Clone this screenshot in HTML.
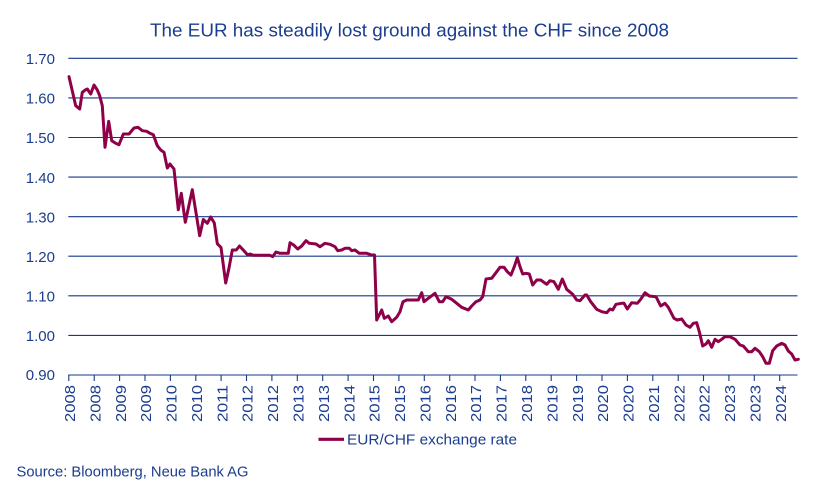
<!DOCTYPE html>
<html>
<head>
<meta charset="utf-8">
<style>
  html, body { margin: 0; padding: 0; background: #ffffff; }
  svg { display: block; }
  text { font-family: "Liberation Sans", "DejaVu Sans", sans-serif; fill: #1b3d8f; }
</style>
</head>
<body>
<svg width="814" height="496" viewBox="0 0 814 496" xmlns="http://www.w3.org/2000/svg">
  <rect x="0" y="0" width="814" height="496" fill="#ffffff"/>

  <!-- Title -->
  <text x="150" y="36.7" font-size="18" textLength="519" lengthAdjust="spacingAndGlyphs">The EUR has steadily lost ground against the CHF since 2008</text>

  <!-- Gridlines -->
  <g stroke="#17388a" stroke-width="1.1" fill="none">
    <line x1="68.3" y1="58.3" x2="797.5" y2="58.3"/>
    <line x1="68.3" y1="97.9" x2="797.5" y2="97.9"/>
    <line x1="68.3" y1="137.5" x2="797.5" y2="137.5"/>
    <line x1="68.3" y1="177.1" x2="797.5" y2="177.1"/>
    <line x1="68.3" y1="216.7" x2="797.5" y2="216.7"/>
    <line x1="68.3" y1="256.2" x2="797.5" y2="256.2"/>
    <line x1="68.3" y1="295.8" x2="797.5" y2="295.8"/>
    <line x1="68.3" y1="335.4" x2="797.5" y2="335.4"/>
    <line x1="68.3" y1="375" x2="797.5" y2="375"/>
  </g>

  <!-- Y labels -->
  <g font-size="15" text-anchor="end">
    <text x="55" y="64">1.70</text>
    <text x="55" y="103.6">1.60</text>
    <text x="55" y="143.2">1.50</text>
    <text x="55" y="182.8">1.40</text>
    <text x="55" y="222.4">1.30</text>
    <text x="55" y="261.9">1.20</text>
    <text x="55" y="301.5">1.10</text>
    <text x="55" y="341.1">1.00</text>
    <text x="55" y="380">0.90</text>
  </g>

  <!-- X ticks -->
  <g stroke="#17388a" stroke-width="1.1">
    <line x1="68.8" y1="375" x2="68.8" y2="381"/>
    <line x1="94.2" y1="375" x2="94.2" y2="381"/>
    <line x1="119.6" y1="375" x2="119.6" y2="381"/>
    <line x1="145.0" y1="375" x2="145.0" y2="381"/>
    <line x1="170.4" y1="375" x2="170.4" y2="381"/>
    <line x1="195.8" y1="375" x2="195.8" y2="381"/>
    <line x1="221.1" y1="375" x2="221.1" y2="381"/>
    <line x1="246.5" y1="375" x2="246.5" y2="381"/>
    <line x1="271.9" y1="375" x2="271.9" y2="381"/>
    <line x1="297.3" y1="375" x2="297.3" y2="381"/>
    <line x1="322.7" y1="375" x2="322.7" y2="381"/>
    <line x1="348.1" y1="375" x2="348.1" y2="381"/>
    <line x1="373.5" y1="375" x2="373.5" y2="381"/>
    <line x1="398.9" y1="375" x2="398.9" y2="381"/>
    <line x1="424.3" y1="375" x2="424.3" y2="381"/>
    <line x1="449.7" y1="375" x2="449.7" y2="381"/>
    <line x1="475.0" y1="375" x2="475.0" y2="381"/>
    <line x1="500.4" y1="375" x2="500.4" y2="381"/>
    <line x1="525.8" y1="375" x2="525.8" y2="381"/>
    <line x1="551.2" y1="375" x2="551.2" y2="381"/>
    <line x1="576.6" y1="375" x2="576.6" y2="381"/>
    <line x1="602.0" y1="375" x2="602.0" y2="381"/>
    <line x1="627.4" y1="375" x2="627.4" y2="381"/>
    <line x1="652.8" y1="375" x2="652.8" y2="381"/>
    <line x1="678.2" y1="375" x2="678.2" y2="381"/>
    <line x1="703.5" y1="375" x2="703.5" y2="381"/>
    <line x1="728.9" y1="375" x2="728.9" y2="381"/>
    <line x1="754.3" y1="375" x2="754.3" y2="381"/>
    <line x1="779.7" y1="375" x2="779.7" y2="381"/>
  </g>

  <!-- X labels (rotated) -->
  <g font-size="15" text-anchor="end">
    <text transform="translate(75,385) rotate(-90)" textLength="37" lengthAdjust="spacingAndGlyphs">2008</text>
    <text transform="translate(100.4,385) rotate(-90)" textLength="37" lengthAdjust="spacingAndGlyphs">2008</text>
    <text transform="translate(125.8,385) rotate(-90)" textLength="37" lengthAdjust="spacingAndGlyphs">2009</text>
    <text transform="translate(151.2,385) rotate(-90)" textLength="37" lengthAdjust="spacingAndGlyphs">2009</text>
    <text transform="translate(176.6,385) rotate(-90)" textLength="37" lengthAdjust="spacingAndGlyphs">2010</text>
    <text transform="translate(202.0,385) rotate(-90)" textLength="37" lengthAdjust="spacingAndGlyphs">2010</text>
    <text transform="translate(227.3,385) rotate(-90)" textLength="37" lengthAdjust="spacingAndGlyphs">2011</text>
    <text transform="translate(252.7,385) rotate(-90)" textLength="37" lengthAdjust="spacingAndGlyphs">2012</text>
    <text transform="translate(278.1,385) rotate(-90)" textLength="37" lengthAdjust="spacingAndGlyphs">2012</text>
    <text transform="translate(303.5,385) rotate(-90)" textLength="37" lengthAdjust="spacingAndGlyphs">2013</text>
    <text transform="translate(328.9,385) rotate(-90)" textLength="37" lengthAdjust="spacingAndGlyphs">2013</text>
    <text transform="translate(354.3,385) rotate(-90)" textLength="37" lengthAdjust="spacingAndGlyphs">2014</text>
    <text transform="translate(379.7,385) rotate(-90)" textLength="37" lengthAdjust="spacingAndGlyphs">2015</text>
    <text transform="translate(405.1,385) rotate(-90)" textLength="37" lengthAdjust="spacingAndGlyphs">2015</text>
    <text transform="translate(430.5,385) rotate(-90)" textLength="37" lengthAdjust="spacingAndGlyphs">2016</text>
    <text transform="translate(455.9,385) rotate(-90)" textLength="37" lengthAdjust="spacingAndGlyphs">2016</text>
    <text transform="translate(481.2,385) rotate(-90)" textLength="37" lengthAdjust="spacingAndGlyphs">2017</text>
    <text transform="translate(506.6,385) rotate(-90)" textLength="37" lengthAdjust="spacingAndGlyphs">2017</text>
    <text transform="translate(532.0,385) rotate(-90)" textLength="37" lengthAdjust="spacingAndGlyphs">2018</text>
    <text transform="translate(557.4,385) rotate(-90)" textLength="37" lengthAdjust="spacingAndGlyphs">2019</text>
    <text transform="translate(582.8,385) rotate(-90)" textLength="37" lengthAdjust="spacingAndGlyphs">2019</text>
    <text transform="translate(608.2,385) rotate(-90)" textLength="37" lengthAdjust="spacingAndGlyphs">2020</text>
    <text transform="translate(633.6,385) rotate(-90)" textLength="37" lengthAdjust="spacingAndGlyphs">2020</text>
    <text transform="translate(659.0,385) rotate(-90)" textLength="37" lengthAdjust="spacingAndGlyphs">2021</text>
    <text transform="translate(684.4,385) rotate(-90)" textLength="37" lengthAdjust="spacingAndGlyphs">2022</text>
    <text transform="translate(709.7,385) rotate(-90)" textLength="37" lengthAdjust="spacingAndGlyphs">2022</text>
    <text transform="translate(735.1,385) rotate(-90)" textLength="37" lengthAdjust="spacingAndGlyphs">2023</text>
    <text transform="translate(760.5,385) rotate(-90)" textLength="37" lengthAdjust="spacingAndGlyphs">2023</text>
    <text transform="translate(785.9,385) rotate(-90)" textLength="37" lengthAdjust="spacingAndGlyphs">2024</text>
  </g>

  <!-- Data series -->
  <polyline fill="none" stroke="#8e0048" stroke-width="3" stroke-linejoin="round" stroke-linecap="round"
    points="69,76.7 75.7,105.7 79.7,109 82.3,92.3 85.7,89.7 87.3,89 90.7,94 94,85 97.3,90 99.7,95.7 102.3,105.7 105,147.3 108.7,121.3 111.7,140.7 115.7,143.3 119,144.7 123.3,134 129,134 134,128 138,127.3 142.3,130.7 146.7,131.3 150,133.3 153.3,134.7 157.3,145.7 160.7,150 164,152.3 167.3,168 170,164 174,169 178.3,209.7 181.3,193.3 185.3,222.3 192.3,189.7 199.7,235.7 203.3,219.5 207.3,223.3 210.7,217 214.3,223 217.3,243.7 221,247.5 225.7,283 229,268 232.3,250 236.3,250 239.5,246 243.5,250.3 247.7,255 250,254 253.3,255.3 270,255.3 272.7,256.7 276,252 280,253.3 288.3,253.3 290,242.7 294,245.3 297.7,249 301.7,246 306,240.7 309.3,243.3 316,244 320,246.7 325,243.3 330,244.3 335,246.7 337.7,250.7 341.7,250 345,248.3 349.3,248.3 351.7,250.7 355,250 359.3,253.3 366.7,253.3 371.7,255 374.5,255 376.7,320 381.7,310 384.3,318.3 388.3,316 391.7,321.7 396.7,317.3 400,311.7 403,301.7 406.7,300 418.3,300 421.7,292.7 424,301.7 428.3,298.3 435,293.3 439.3,301.7 442.7,301.7 446,296.7 451.7,299.3 456.7,303.3 461.7,307.3 468.3,310 471.7,306 476,301.7 480,300 482.7,296.7 486,279 491.7,278.3 496.7,271.7 500,267.3 504,267.3 507.3,271.7 511,275 514.3,266.7 517.3,257.7 520,266.7 522.7,274 526,273.3 529.3,274 532.7,285 536.7,280 540.7,280 546.7,284.3 550,280.7 554,281.7 558.3,289.3 562.3,279 566.7,289.3 572.7,294.3 576.7,300 580,300.7 585,295 586.7,295 590.7,301.7 596.7,309.3 601.7,311.7 606.7,312.7 610,309 612.7,310 616,304.3 621.7,303.3 624,303.3 627.3,309 631.7,302.7 637.3,303.3 640.7,299.3 645,292.7 649.3,296 656,296.7 660.7,306 665,303.3 668.3,307.3 674,318.3 677.3,320 681.7,319 686,325 690,327.3 693.3,323.3 696.7,322.7 699.3,331.7 702.7,346 706,344 708.3,340.7 711.7,347.3 715,339.3 718.3,341.7 721.7,339.3 725,336.7 730,336.7 735,339.3 740,345 743.3,346 748.3,351.7 751.7,351.7 755,348.3 759.3,351.7 762.7,356.7 766,363.3 769.3,363.3 772.7,350.7 776.7,346 781.7,343.3 785,345 788.3,351 791.7,354 795,360 798.3,359.3"/>

  <!-- Legend -->
  <line x1="318.5" y1="439.3" x2="344" y2="439.3" stroke="#8e0048" stroke-width="3.2"/>
  <text x="347" y="444.3" font-size="15" textLength="170" lengthAdjust="spacingAndGlyphs">EUR/CHF exchange rate</text>

  <!-- Source -->
  <text x="16.5" y="476.7" font-size="14.5" textLength="232" lengthAdjust="spacingAndGlyphs">Source: Bloomberg, Neue Bank AG</text>
</svg>
</body>
</html>
